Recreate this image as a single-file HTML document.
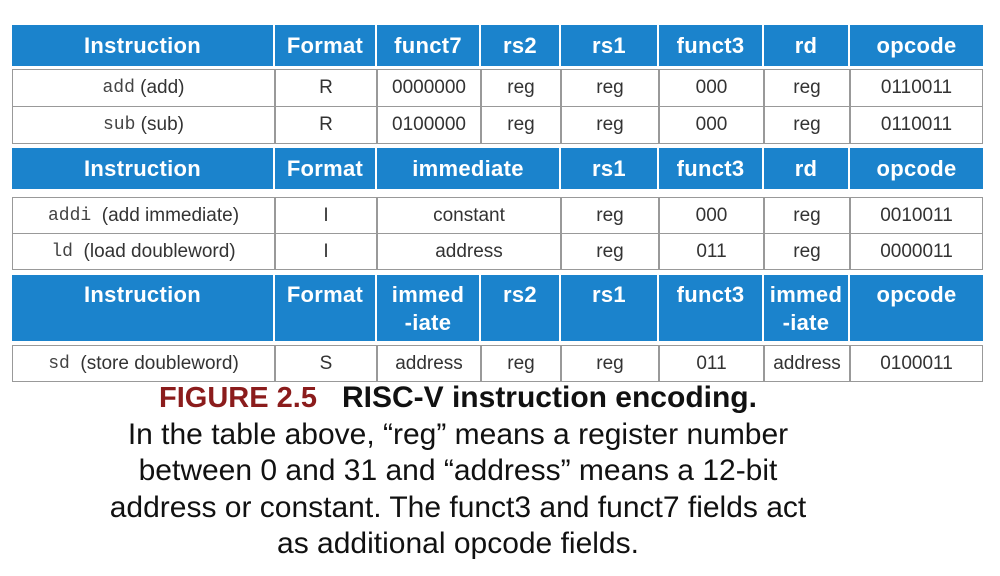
<!DOCTYPE html>
<html><head><meta charset="utf-8"><style>
body{margin:0;width:1000px;height:576px;background:#fff;position:relative;overflow:hidden;font-family:"Liberation Sans",sans-serif}
.h,.d{position:absolute;box-sizing:border-box;display:flex;align-items:center;justify-content:center;text-align:center}
.h{background:#1b83cc;color:#fff;font-weight:bold;font-size:22px;line-height:28px;border-right:2px solid #fff;letter-spacing:0.3px}
.d{background:#fff;color:#333;font-size:19px;border:1px solid #999;margin-left:-1px}
.m{font-family:"Liberation Mono",monospace;font-size:18px;color:#444}
.cap{position:absolute;left:0;width:916px;text-align:center;font-size:30px;color:#111}
</style></head><body>
<div class="h" style="left:12px;top:25px;width:263px;height:41px">Instruction</div>
<div class="h" style="left:275px;top:25px;width:102px;height:41px">Format</div>
<div class="h" style="left:377px;top:25px;width:104px;height:41px">funct7</div>
<div class="h" style="left:481px;top:25px;width:80px;height:41px">rs2</div>
<div class="h" style="left:561px;top:25px;width:98px;height:41px">rs1</div>
<div class="h" style="left:659px;top:25px;width:105px;height:41px">funct3</div>
<div class="h" style="left:764px;top:25px;width:86px;height:41px">rd</div>
<div class="h" style="left:850px;top:25px;width:133px;height:41px;border-right:0">opcode</div>
<div class="d" style="left:13px;top:69px;width:263px;height:38px"><span class="m">add</span>&nbsp;(add)</div>
<div class="d" style="left:276px;top:69px;width:102px;height:38px">R</div>
<div class="d" style="left:378px;top:69px;width:104px;height:38px">0000000</div>
<div class="d" style="left:482px;top:69px;width:80px;height:38px">reg</div>
<div class="d" style="left:562px;top:69px;width:98px;height:38px">reg</div>
<div class="d" style="left:660px;top:69px;width:105px;height:38px">000</div>
<div class="d" style="left:765px;top:69px;width:86px;height:38px">reg</div>
<div class="d" style="left:851px;top:69px;width:133px;height:38px">0110011</div>
<div class="d" style="left:13px;top:106px;width:263px;height:38px"><span class="m">sub</span>&nbsp;(sub)</div>
<div class="d" style="left:276px;top:106px;width:102px;height:38px">R</div>
<div class="d" style="left:378px;top:106px;width:104px;height:38px">0100000</div>
<div class="d" style="left:482px;top:106px;width:80px;height:38px">reg</div>
<div class="d" style="left:562px;top:106px;width:98px;height:38px">reg</div>
<div class="d" style="left:660px;top:106px;width:105px;height:38px">000</div>
<div class="d" style="left:765px;top:106px;width:86px;height:38px">reg</div>
<div class="d" style="left:851px;top:106px;width:133px;height:38px">0110011</div>
<div class="h" style="left:12px;top:148px;width:263px;height:41px">Instruction</div>
<div class="h" style="left:275px;top:148px;width:102px;height:41px">Format</div>
<div class="h" style="left:377px;top:148px;width:184px;height:41px">immediate</div>
<div class="h" style="left:561px;top:148px;width:98px;height:41px">rs1</div>
<div class="h" style="left:659px;top:148px;width:105px;height:41px">funct3</div>
<div class="h" style="left:764px;top:148px;width:86px;height:41px">rd</div>
<div class="h" style="left:850px;top:148px;width:133px;height:41px;border-right:0">opcode</div>
<div class="d" style="left:13px;top:197px;width:263px;height:37px"><span class="m">addi</span>&nbsp;&nbsp;(add immediate)</div>
<div class="d" style="left:276px;top:197px;width:102px;height:37px">I</div>
<div class="d" style="left:378px;top:197px;width:184px;height:37px">constant</div>
<div class="d" style="left:562px;top:197px;width:98px;height:37px">reg</div>
<div class="d" style="left:660px;top:197px;width:105px;height:37px">000</div>
<div class="d" style="left:765px;top:197px;width:86px;height:37px">reg</div>
<div class="d" style="left:851px;top:197px;width:133px;height:37px">0010011</div>
<div class="d" style="left:13px;top:233px;width:263px;height:37px"><span class="m">ld</span>&nbsp;&nbsp;(load doubleword)</div>
<div class="d" style="left:276px;top:233px;width:102px;height:37px">I</div>
<div class="d" style="left:378px;top:233px;width:184px;height:37px">address</div>
<div class="d" style="left:562px;top:233px;width:98px;height:37px">reg</div>
<div class="d" style="left:660px;top:233px;width:105px;height:37px">011</div>
<div class="d" style="left:765px;top:233px;width:86px;height:37px">reg</div>
<div class="d" style="left:851px;top:233px;width:133px;height:37px">0000011</div>
<div class="h" style="left:12px;top:275px;width:263px;height:66px;align-items:flex-start;padding-top:6px">Instruction</div>
<div class="h" style="left:275px;top:275px;width:102px;height:66px;align-items:flex-start;padding-top:6px">Format</div>
<div class="h" style="left:377px;top:275px;width:104px;height:66px;align-items:flex-start;padding-top:6px">immed<br>-iate</div>
<div class="h" style="left:481px;top:275px;width:80px;height:66px;align-items:flex-start;padding-top:6px">rs2</div>
<div class="h" style="left:561px;top:275px;width:98px;height:66px;align-items:flex-start;padding-top:6px">rs1</div>
<div class="h" style="left:659px;top:275px;width:105px;height:66px;align-items:flex-start;padding-top:6px">funct3</div>
<div class="h" style="left:764px;top:275px;width:86px;height:66px;align-items:flex-start;padding-top:6px">immed<br>-iate</div>
<div class="h" style="left:850px;top:275px;width:133px;height:66px;align-items:flex-start;padding-top:6px;border-right:0">opcode</div>
<div class="d" style="left:13px;top:345px;width:263px;height:37px"><span class="m">sd</span>&nbsp;&nbsp;(store doubleword)</div>
<div class="d" style="left:276px;top:345px;width:102px;height:37px">S</div>
<div class="d" style="left:378px;top:345px;width:104px;height:37px">address</div>
<div class="d" style="left:482px;top:345px;width:80px;height:37px">reg</div>
<div class="d" style="left:562px;top:345px;width:98px;height:37px">reg</div>
<div class="d" style="left:660px;top:345px;width:105px;height:37px">011</div>
<div class="d" style="left:765px;top:345px;width:86px;height:37px">address</div>
<div class="d" style="left:851px;top:345px;width:133px;height:37px">0100011</div>
<div class="cap" style="top:381px;font-weight:bold"><span style="color:#8b1c1c;font-size:29px">FIGURE 2.5</span>&nbsp;&nbsp; RISC-V instruction encoding.</div>
<div class="cap" style="top:418px">In the table above, “reg” means a register number</div>
<div class="cap" style="top:454px">between 0 and 31 and “address” means a 12-bit</div>
<div class="cap" style="top:491px">address or constant. The funct3 and funct7 fields act</div>
<div class="cap" style="top:527px">as additional opcode fields.</div>
</body></html>
